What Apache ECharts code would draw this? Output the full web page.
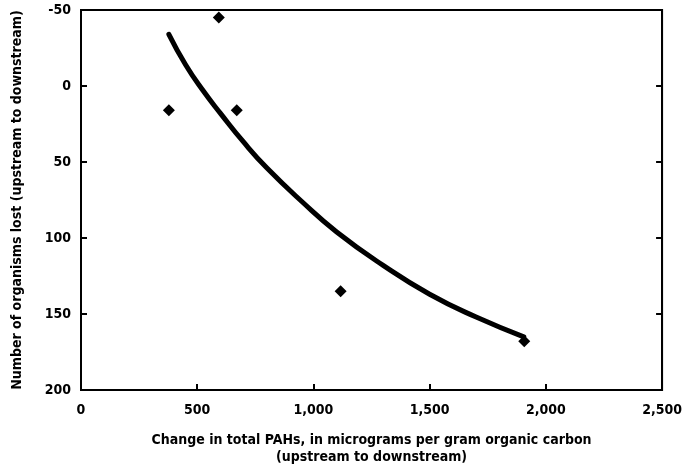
<!DOCTYPE html>
<html>
<head>
<meta charset="utf-8">
<script src="https://cdn.jsdelivr.net/npm/echarts@6/dist/echarts.min.js"></script>
<style>
html,body{margin:0;padding:0;background:#fff;}
#main{width:685px;height:476px;}
</style>
</head>
<body>
<div id="main"></div>
<script>
// measured points, change in PAHs vs organisms lost
var pahChange = [378, 593, 670, 1117, 1907];
var organismsLost = [16, -45, 16, 135, 168];

// fitted curve
var curveX = [378, 450, 525, 600, 700, 800, 950, 1100, 1300, 1500, 1700, 1905];
var curveY = [-34, -14, 3, 18, 37, 54, 76, 96, 118, 137, 152, 165];

var xTicks = [0, 500, 1000, 1500, 2000, 2500];
var yTicks = [-50, 0, 50, 100, 150, 200];

var fontFam = "'DejaVu Sans Condensed', 'DejaVu Sans', sans-serif";

initChart();

function initChart(){
    var myChart = echarts.init(document.getElementById('main'));
    var pts = [];
    for(var i=0;i<pahChange.length;i++){
        pts.push([pahChange[i], organismsLost[i]]);
    }
    var line = [];
    for(var i=0;i<curveX.length;i++){
        line.push([curveX[i], curveY[i]]);
    }
    var axisTick = {show: true, inside: true, length: 6, lineStyle: {color: '#000', width: 2}};
    var option = {
        backgroundColor: '#fff',
        animation: false,
        grid: {
            left: 81,
            right: 22,
            top: 10,
            bottom: 86,
            show: true,
            borderColor: '#000',
            borderWidth: 2
        },
        xAxis: {
            type: 'value',
            min: xTicks[0],
            max: xTicks[xTicks.length-1],
            interval: 500,
            name: 'Change in total PAHs, in micrograms per gram organic carbon\n(upstream to downstream)',
            nameLocation: 'middle',
            nameGap: 42,
            nameTextStyle: {
                color: '#000', fontFamily: fontFam, fontWeight: 'bold', fontSize: 14, lineHeight: 17
            },
            axisLine: {show: true, onZero: false, lineStyle: {color: '#000', width: 2}},
            axisTick: axisTick,
            axisLabel: {
                color: '#000', fontFamily: fontFam, fontWeight: 'bold', fontSize: 14, margin: 13,
                formatter: function(v){ return v.toLocaleString('en-US'); }
            },
            splitLine: {show: false}
        },
        yAxis: [{
            type: 'value',
            min: yTicks[0],
            max: yTicks[yTicks.length-1],
            interval: 50,
            inverse: true,
            name: 'Number of organisms lost (upstream to downstream)',
            nameLocation: 'middle',
            nameGap: 57,
            nameTextStyle: {
                color: '#000', fontFamily: fontFam, fontWeight: 'bold', fontSize: 14
            },
            axisLine: {show: true, onZero: false, lineStyle: {color: '#000', width: 2}},
            axisTick: axisTick,
            axisLabel: {color: '#000', fontFamily: fontFam, fontWeight: 'bold', fontSize: 14, margin: 10},
            splitLine: {show: false}
        }, {
            type: 'value',
            position: 'right',
            min: yTicks[0],
            max: yTicks[yTicks.length-1],
            interval: 50,
            inverse: true,
            axisLine: {show: true, onZero: false, lineStyle: {color: '#000', width: 2}},
            axisTick: axisTick,
            axisLabel: {show: false},
            splitLine: {show: false}
        }],
        series: [
            {
                name: 'fit',
                type: 'line',
                data: line,
                smooth: true,
                showSymbol: false,
                lineStyle: {color: '#000', width: 5, cap: 'round'},
                z: 2
            },
            {
                name: 'points',
                type: 'scatter',
                data: pts,
                symbol: 'diamond',
                symbolSize: 12,
                itemStyle: {color: '#000', opacity: 1},
                z: 3
            }
        ]
    };
    myChart.setOption(option);
}
</script>
</body>
</html>
